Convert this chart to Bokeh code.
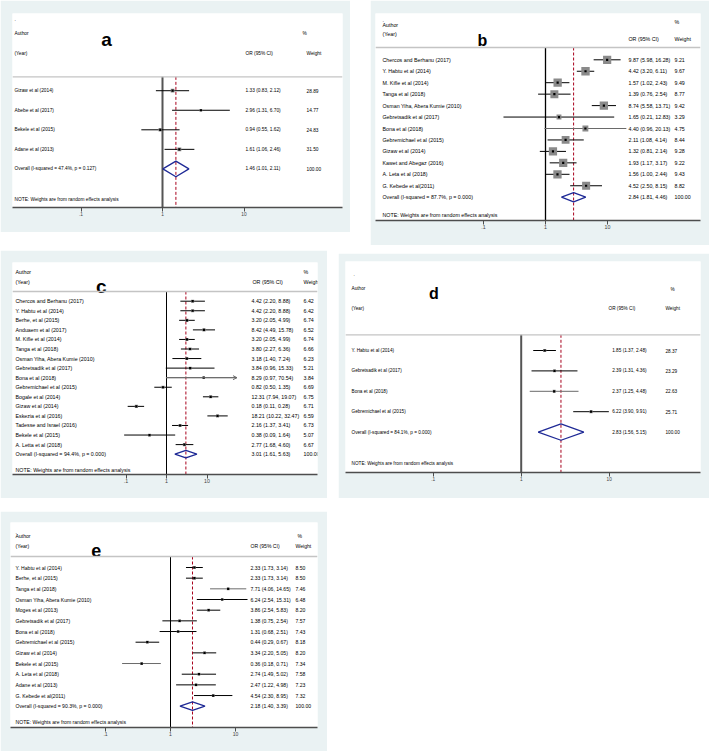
import numpy as np
from bokeh.plotting import figure
from bokeh.models import Range1d, FixedTicker, Span, Spacer, Arrow, OpenHead, CustomJSTickFormatter
from bokeh.layouts import row, column
from bokeh.embed import file_html
from bokeh.resources import INLINE
from bokeh.core.properties import value

# ---------------- data ----------------
a_study = ["Gizaw et al (2014)", "Abebe et al (2017)", "Bekele et al (2015)", "Adane et al (2013)"]
a_or = [1.33, 2.96, 0.94, 1.61]
a_lo = [0.83, 1.31, 0.55, 1.06]
a_hi = [2.12, 6.70, 1.62, 2.46]
a_weight = [28.89, 14.77, 24.83, 31.50]
a_overall = [1.46, 1.01, 2.11]
a_het = ["47.4%", "0.127"]

b_study = ["Chercos and Berhanu (2017)", "Y. Habtu et al (2014)", "M. Kifle et al (2014)",
           "Tanga et al (2018)", "Osman Yiha,  Abera Kumie (2010)", "Gebretsadik et al (2017)",
           "Bona et al (2018)", "Gebremichael et al (2015)", "Gizaw et al (2014)",
           "Kawet and Abegaz (2016)", "A. Leta et al (2018)", "G. Kebede et al(2011)"]
b_or = [9.87, 4.42, 1.57, 1.39, 8.74, 1.65, 4.40, 2.11, 1.32, 1.93, 1.56, 4.52]
b_lo = [5.98, 3.20, 1.02, 0.76, 5.58, 0.21, 0.96, 1.08, 0.81, 1.17, 1.00, 2.50]
b_hi = [16.28, 6.11, 2.43, 2.54, 13.71, 12.83, 20.13, 4.14, 2.14, 3.17, 2.44, 8.15]
b_weight = [9.21, 9.67, 9.49, 8.77, 9.42, 3.29, 4.75, 8.44, 9.28, 9.22, 9.43, 8.82]
b_overall = [2.84, 1.81, 4.46]
b_het = ["87.7%", "0.000"]

c_study = ["Chercos and Berhanu (2017)", "Y. Habtu et al (2014)", "Berhe, et al (2015)",
           "Anduaem et al (2017)", "M. Kifle et al (2014)", "Tanga et al (2018)",
           "Osman Yiha,  Abera Kumie (2010)", "Gebretsadik et al (2017)", "Bona et al (2018)",
           "Gebremichael et al (2015)", "Bogale et al (2014)", "Gizaw et al (2014)",
           "Eskezia et al (2016)", "Tadesse and Israel (2016)", "Bekele et al (2015)",
           "A. Letta et al (2018)"]
c_or = [4.42, 4.42, 3.20, 8.42, 3.20, 3.80, 3.18, 3.84, 8.29, 0.82, 12.31, 0.18, 18.21, 2.16, 0.38, 2.77]
c_lo = [2.20, 2.20, 2.05, 4.49, 2.05, 2.27, 1.40, 0.96, 0.97, 0.50, 7.94, 0.11, 10.22, 1.37, 0.09, 1.68]
c_hi = [8.88, 8.88, 4.99, 15.78, 4.99, 6.36, 7.24, 15.33, 70.54, 1.35, 19.07, 0.28, 32.47, 3.41, 1.64, 4.60]
c_weight = [6.42, 6.42, 6.74, 6.52, 6.74, 6.66, 6.23, 5.21, 3.84, 6.69, 6.75, 6.71, 6.59, 6.73, 5.07, 6.67]
c_overall = [3.01, 1.61, 5.63]
c_het = ["94.4%", "0.000"]

d_study = ["Y. Habtu et al (2014)", "Gebretsadik et al (2017)", "Bona et al (2018)",
           "Gebremichael et al (2015)"]
d_or = [1.85, 2.39, 2.37, 6.22]
d_lo = [1.37, 1.31, 1.25, 3.90]
d_hi = [2.48, 4.36, 4.48, 9.91]
d_weight = [28.37, 23.29, 22.63, 25.71]
d_overall = [2.83, 1.56, 5.15]
d_het = ["84.1%", "0.000"]

e_study = ["Y. Habtu et al (2014)", "Berhe, et al (2015)", "Tanga et al (2018)",
           "Osman Yiha,  Abera Kumie (2010)", "Moges et al (2013)", "Gebretsadik et al (2017)",
           "Bona et al (2018)", "Gebremichael et al (2015)", "Gizaw et al (2014)",
           "Bekele et al (2015)", "A. Leta et al (2018)", "Adane et al (2013)", "G. Kebede et al(2011)"]
e_or = [2.33, 2.33, 7.71, 6.24, 3.86, 1.38, 1.31, 0.44, 3.34, 0.36, 2.74, 2.47, 4.54]
e_lo = [1.73, 1.73, 4.06, 2.54, 2.54, 0.75, 0.68, 0.29, 2.20, 0.18, 1.49, 1.22, 2.30]
e_hi = [3.14, 3.14, 14.65, 15.31, 5.83, 2.54, 2.51, 0.67, 5.05, 0.71, 5.02, 4.98, 8.95]
e_weight = [8.50, 8.50, 7.46, 6.48, 8.20, 7.57, 7.43, 8.18, 8.20, 7.34, 7.58, 7.23, 7.32]
e_overall = [2.18, 1.40, 3.39]
e_het = ["90.3%", "0.000"]

axis_ticks = [0.1, 1, 10]

# ---------------- layout / style ----------------
BG = "#eaf2f3"
NAVY = "#1f2a96"
RED = "#a8001c"
FONT_NAME = "Liberation Sans"
FONT = value(FONT_NAME)

LAYOUT = {
    "a": dict(fig=(0, 350, 0, 232), frame=(12, 342, 12, 208), x1=162, dec=81.5, y1=90, step=19.75,
              font="4.8px", lsize="19px", letter=(106, 38.3), dot=(14, 18), author=(14, 32), year=(14, 52),
              pct=(302, 32), orh=(245, 52), wth=(306, 52), sep=76, note=200, orx=245, wx=306,
              box=0.7, null=("#555555", 2), gray=[], clip=None),
    "b": dict(fig=(370, 709, 0, 245), frame=(375, 700, 13, 220), x1=545, dec=62, y1=59.3, step=11.45,
              font="5.3px", lsize="16px", letter=(482, 40), dot=(382, 19), author=(382, 24), year=(382, 33),
              pct=(674, 21), orh=(628, 38), wth=(674, 38), sep=47, note=214, orx=628, wx=674,
              box=2.7, null=("#000000", 1.3), gray=[6], clip=None),
    "c": dict(fig=(0, 327, 250, 498), frame=(12, 317, 262, 474), x1=166, dec=40.5, y1=300.7, step=9.56,
              font="5.3px", lsize="19px", letter=(100.7, 286.3), dot=None, author=(15, 271), year=(15, 281),
              pct=(303, 271), orh=(252, 281), wth=(303, 281), sep=291, note=469, orx=251, wx=303,
              box=1.2, null=("#000000", 1), gray=[8], clip=55),
    "d": dict(fig=(338, 709, 253, 498), frame=(345, 700, 261, 472), x1=520.7, dec=88, y1=350, step=20.4,
              font="4.7px", lsize="16px", letter=(433.3, 293.3), dot=(353, 273), author=(351, 288), year=(351, 308),
              pct=(670, 289), orh=(608, 308), wth=(665, 308), sep=334.3, note=462.7, orx=611.7, wx=665,
              box=0.6, null=("#555555", 2), gray=[2], clip=None),
    "e": dict(fig=(0, 327, 511, 751), frame=(10, 317, 522, 727), x1=170, dec=65, y1=567, step=10.67,
              font="5.1px", lsize="18px", letter=(95.7, 550), dot=(15, 531.7), author=(15, 535), year=(15, 545),
              pct=(297, 535), orh=(250, 545), wth=(295, 545), sep=556, note=721.7, orx=250, wx=295,
              box=1.0, null=("#000000", 1), gray=[2, 9], clip=None),
}


def make_panel(key, study, ors, lo, hi, weight, overall, het):
    L = LAYOUT[key]
    gl, gr, gt, gb = L["fig"]
    fl, fr, ft, fb = L["frame"]

    def px2x(px):
        return 10 ** ((px - L["x1"]) / L["dec"])

    def px2y(py):
        return 1 + (py - L["y1"]) / L["step"]

    p = figure(width=gr - gl, height=gb - gt, x_axis_type="log", y_axis_location=None,
               x_range=Range1d(px2x(fl), px2x(fr)), y_range=Range1d(px2y(fb), px2y(ft)),
               output_backend="svg", toolbar_location=None,
               min_border_left=fl - gl, min_border_right=gr - fr,
               min_border_top=ft - gt, min_border_bottom=gb - fb,
               background_fill_color="white", border_fill_color=BG, outline_line_color=None)
    p.grid.visible = False
    ax = p.xaxis[0]
    ax.ticker = FixedTicker(ticks=axis_ticks)
    ax.formatter = CustomJSTickFormatter(code="return tick >= 1 ? tick.toFixed(0) : String(tick).replace(/^0/, '');")
    ax.axis_line_color = "#4d4d4d"
    ax.axis_line_width = 1.6
    ax.major_tick_line_color = "#4d4d4d"
    ax.major_tick_line_width = 1
    ax.major_tick_out = 4
    ax.major_tick_in = 0
    ax.minor_tick_out = 0
    ax.minor_tick_in = 0
    ax.major_label_text_font = FONT_NAME
    ax.major_label_text_font_size = L["font"]
    ax.major_label_standoff = 0

    fs = L["font"]

    def txt(xs_px, ys, texts, align="left", size=None, bold=False, baseline="middle", ydata=False):
        p.text(x=[px2x(v) for v in xs_px], y=(ys if ydata else [px2y(v) for v in ys]), text=texts,
               text_font=FONT, text_font_size=size or fs, text_align=align, text_baseline=baseline,
               text_color="black", text_font_style="bold" if bold else "normal")

    n = len(study)
    k = list(range(1, n + 1))
    ko = n + 1
    ysep = px2y(L["sep"])
    ybot = px2y(fb)

    # separator
    p.add_layout(Span(location=ysep, dimension="width", line_color="#c4c4c4", line_width=1.3))
    # null line
    nc, nw = L["null"]
    p.segment(x0=[1], y0=[ysep], x1=[1], y1=[ybot], line_color=nc, line_width=nw)
    # overall dashed line
    p.segment(x0=[overall[0]], y0=[ysep], x1=[overall[0]], y1=[ybot], line_color=RED,
              line_width=1, line_dash="3 2")

    # CIs
    colors = ["#6a6a6a" if i in L["gray"] else "black" for i in range(n)]
    clip = L["clip"]
    hi_draw = [min(h, clip) if clip else h for h in hi]
    p.segment(x0=lo, y0=k, x1=hi_draw, y1=k, line_color=colors, line_width=1)
    if clip:
        for i in range(n):
            if hi[i] > clip:
                p.add_layout(Arrow(x_start=lo[i], y_start=k[i], x_end=clip, y_end=k[i],
                                   line_color=colors[i], line_width=1,
                                   end=OpenHead(size=4, line_color=colors[i], line_width=1)))
    # weighted boxes and point estimates
    p.scatter(x=ors, y=k, marker="square", size=[L["box"] * np.sqrt(w) for w in weight],
              fill_color="#8a8a8a", line_color=None)
    p.scatter(x=ors, y=k, marker="square", size=2.2, fill_color="black", line_color=None)

    # overall diamond
    o, ol, oh = overall
    p.patch(x=[ol, o, oh, o, ol], y=[ko, ko - 0.4, ko, ko + 0.4, ko], fill_color=None,
            line_color=NAVY, line_width=1.3)

    # header texts
    if L["dot"]:
        txt([L["dot"][0]], [L["dot"][1]], ["."])
    txt([L["author"][0]], [L["author"][1]], ["Author"])
    txt([L["year"][0]], [L["year"][1]], ["(Year)"])
    txt([L["pct"][0]], [L["pct"][1]], ["%"])
    txt([L["orh"][0]], [L["orh"][1]], ["OR (95% CI)"])
    txt([L["wth"][0]], [L["wth"][1]], ["Weight"])
    txt([L["letter"][0]], [L["letter"][1]], [key], align="center", size=L["lsize"], bold=True,
        baseline="alphabetic")

    # study rows
    ax_ = L["author"][0]
    txt([ax_] * n, k, study, ydata=True)
    txt([L["orx"]] * n, k, [f"{a:.2f} ({b:.2f}, {c:.2f})" for a, b, c in zip(ors, lo, hi)], ydata=True)
    txt([L["wx"]] * n, k, [f"{w:.2f}" for w in weight], ydata=True)
    # overall row
    txt([ax_], [ko], [f"Overall  (I-squared = {het[0]}, p = {het[1]})"], ydata=True)
    txt([L["orx"]], [ko], [f"{o:.2f} ({ol:.2f}, {oh:.2f})"], ydata=True)
    txt([L["wx"]], [ko], ["100.00"], ydata=True)
    # note
    txt([ax_], [L["note"]], ["NOTE: Weights are from random effects analysis"])
    return p


pa = make_panel("a", a_study, a_or, a_lo, a_hi, a_weight, a_overall, a_het)
pb = make_panel("b", b_study, b_or, b_lo, b_hi, b_weight, b_overall, b_het)
pc = make_panel("c", c_study, c_or, c_lo, c_hi, c_weight, c_overall, c_het)
pd = make_panel("d", d_study, d_or, d_lo, d_hi, d_weight, d_overall, d_het)
pe = make_panel("e", e_study, e_or, e_lo, e_hi, e_weight, e_overall, e_het)

layout = column(
    row(pa, Spacer(width=20, height=10), pb),
    Spacer(height=5, width=10),
    row(pc, Spacer(width=11, height=10), column(Spacer(height=3, width=10), pd)),
    Spacer(height=13, width=10),
    pe,
)

open("out.html", "w").write(file_html(layout, INLINE, "Forest plots"))
